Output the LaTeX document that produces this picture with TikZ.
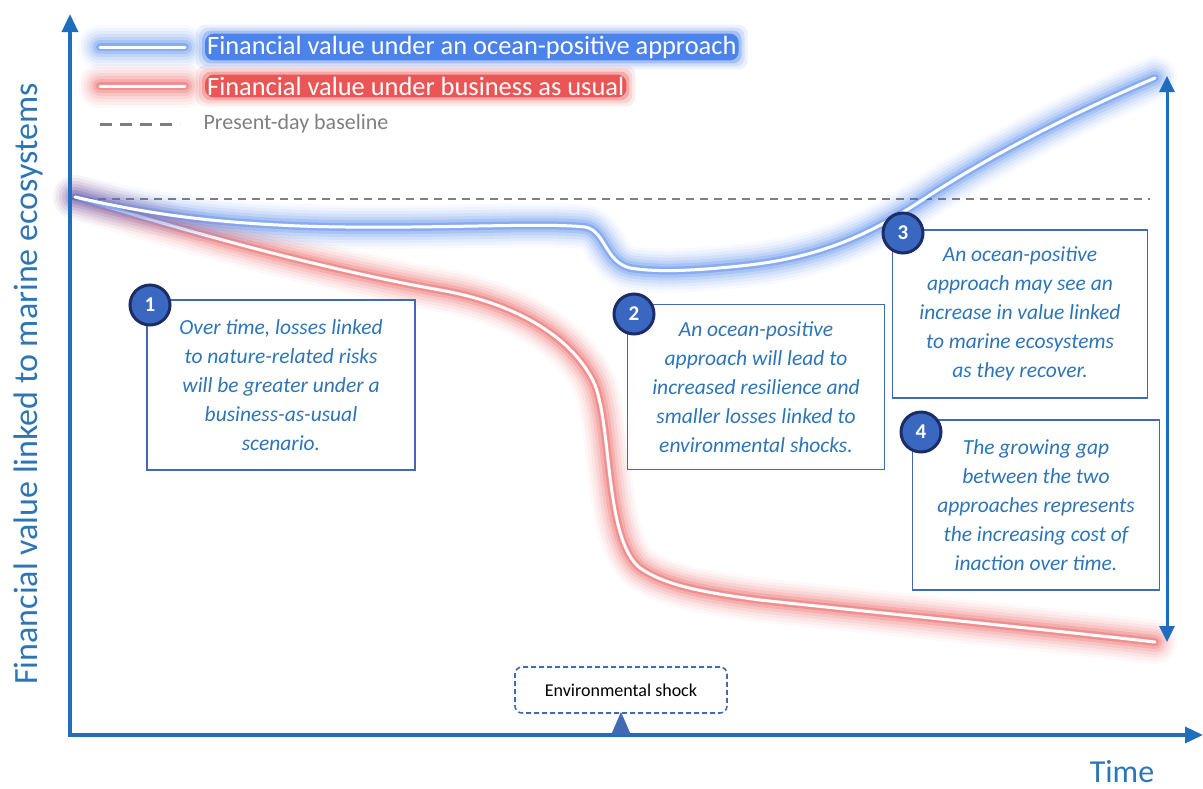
\documentclass[tikz,border=0pt]{standalone}
\usepackage{fontspec}
\setmainfont{Carlito}
\usetikzlibrary{arrows.meta,calc,backgrounds}
\definecolor{axisblue}{HTML}{1F6EBE}
\definecolor{textblue}{HTML}{2E75B6}
\definecolor{boxblue}{HTML}{4169B4}
\definecolor{circfill}{HTML}{3A68C0}
\definecolor{circline}{HTML}{1C2D66}
\definecolor{glowblue}{HTML}{3C78E8}
\definecolor{glowred}{HTML}{E84848}
\definecolor{basegray}{HTML}{7F7F7F}
\newcommand{\glowline}[2]{%
  \foreach \w/\o in {44/0.04,38/0.05,32/0.07,26/0.09,20/0.12,14/0.18,8/0.3}{%
    \draw[#1, line width=\w, opacity=\o, line cap=round] #2;}
  \draw[white, line width=3, line cap=round] #2;}
\tikzset{
  axis/.style={axisblue, line width=3.5, -{Triangle[length=18,width=16]}},
  textbox/.style={draw=boxblue, fill=white, line width=1.8, align=center,
    font=\fontsize{21.5}{29}\selectfont\itshape, text=textblue, inner sep=0},
  numcirc/.style={circle, fill=circfill, draw=circline, line width=3, minimum size=40,
    inner sep=0, text=white, font=\fontsize{21}{21}\selectfont\bfseries},
  legtext/.style={text=white, font=\fontsize{26.4}{26}\selectfont, inner sep=1, anchor=west},
}
\begin{document}
\begin{tikzpicture}[x=1pt,y=-1pt]
\useasboundingbox (0,0) rectangle (1203,788);
% baseline
\coordinate (bl0) at (70,199);
\coordinate (bl1) at (1150,199);
\draw[basegray, line width=2, dash pattern=on 8 off 6] (bl0) -- (bl1);
% curves
\glowline{glowred}{(75,197) .. controls (150,220) and (300,265) .. (440,290) .. controls (520,304) and (575,340) .. (595,385) .. controls (612,430) and (605,540) .. (640,568) .. controls (665,585) and (700,592) .. (760,600) .. controls (900,615) and (1050,630) .. (1155,642)}
\glowline{glowblue}{(75,197) .. controls (140,212) and (200,222) .. (300,226) .. controls (420,230) and (540,222) .. (585,227) .. controls (605,230) and (605,262) .. (630,268) .. controls (660,273) and (700,270) .. (740,266) .. controls (820,258) and (870,235) .. (930,195) .. controls (1000,150) and (1080,110) .. (1155,78)}
% axes
\coordinate (origin) at (70,737);
\coordinate (ytop) at (70,14);
\coordinate (xl) at (68,735);
\coordinate (xr) at (1203,735);
\draw[axis] (origin) -- (ytop);
\draw[axis] (xl) -- (xr);
\node[rotate=90, text=textblue, font=\fontsize{34}{34}\selectfont] (ylab) at (28,384) {Financial value linked to marine ecosystems};
\node[text=textblue, font=\fontsize{32}{32}\selectfont, anchor=base, inner sep=0] (xlab) at (1122,782) {Time};
% gap arrow
\coordinate (gt) at (1167,76);
\coordinate (gb) at (1167,642);
\draw[axisblue, line width=3, {Triangle[length=16,width=15]}-{Triangle[length=16,width=15]}] (gt) -- (gb);
% legend
\glowline{glowblue}{(100,47) -- (185,47)}
\glowline{glowred}{(100,86) -- (185,86)}
\coordinate (ld0) at (100,124);
\coordinate (ld1) at (180,124);
\draw[basegray, line width=3, dash pattern=on 12 off 8] (ld0) -- (ld1);
\node[legtext] (lg1) at (206,47) {Financial value under an ocean-positive approach};
\node[legtext] (lg2) at (206,86) {Financial value under business as usual};
\node[anchor=west, text=basegray, font=\fontsize{22}{22}\selectfont] (lg3) at (200,124) {Present-day baseline};
\begin{scope}[on background layer]
  \foreach \d/\o in {10/0.1,7/0.15,4/0.3,1/0.85}{
    \fill[glowblue, opacity=\o, rounded corners=9] ($(lg1.south west)+(-\d,\d)$) rectangle ($(lg1.north east)+(\d,-\d)$);
    \fill[glowred, opacity=\o, rounded corners=9] ($(lg2.south west)+(-\d,\d)$) rectangle ($(lg2.north east)+(\d,-\d)$);
  }
\end{scope}
% boxes
\node[textbox, minimum width=268, minimum height=170] (b1) at (281,385) {Over time, losses linked\\to nature-related risks\\will be greater under a\\business-as-usual\\scenario.};
\node[numcirc] (c1) at (150,305) {1};
\node[textbox, minimum width=257, minimum height=165] (b2) at (756,387) {An ocean-positive\\approach will lead to\\increased resilience and\\smaller losses linked to\\environmental shocks.};
\node[numcirc] (c2) at (634,314) {2};
\node[textbox, minimum width=255, minimum height=168] (b3) at (1020,314) {An ocean-positive\\approach may see an\\increase in value linked\\to marine ecosystems\\as they recover.};
\node[numcirc] (c3) at (903,233) {3};
\node[textbox, minimum width=247, minimum height=170] (b4) at (1036,505) {The growing gap\\between the two\\approaches represents\\the increasing cost of\\inaction over time.};
\node[numcirc] (c4) at (921,432) {4};
% environmental shock
\node[draw=boxblue, dash pattern=on 5 off 3, line width=1.6, rounded corners=7, minimum width=212, minimum height=46, font=\fontsize{18}{18}\selectfont, text=black] (shock) at (621,690) {Environmental shock};
\fill[boxblue] (611,735) -- (621,712) -- (631,735) -- cycle;
\end{tikzpicture}
\end{document}
